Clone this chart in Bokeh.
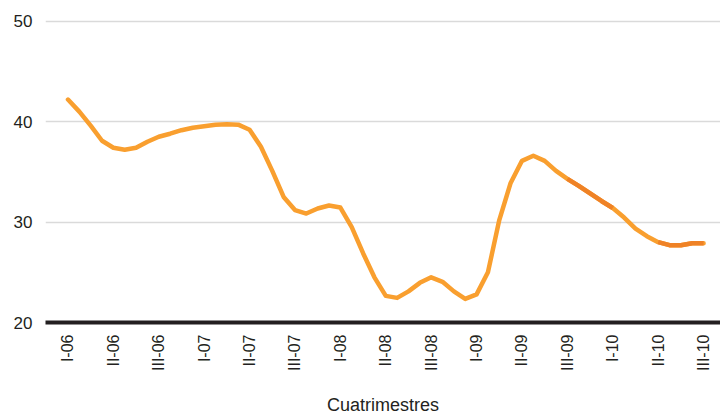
from bokeh.plotting import figure
from bokeh.models import FixedTicker, Range1d, ColumnDataSource
from bokeh.embed import file_html
from bokeh.resources import INLINE
import numpy as np

# Cuatrimestre labels (one every 4 months)
categories = ["I-06", "II-06", "III-06", "I-07", "II-07", "III-07", "I-08", "II-08",
              "III-08", "I-09", "II-09", "III-09", "I-10", "II-10", "III-10"]

# Monthly values (4 months per cuatrimestre)
values = [42.2, 41.0, 39.6, 38.1, 37.4, 37.2, 37.4, 38.0,
          38.5, 38.8, 39.15, 39.4, 39.55, 39.7, 39.75, 39.7,
          39.2, 37.5, 35.1, 32.5, 31.2, 30.85, 31.35, 31.65,
          31.45, 29.5, 26.9, 24.5, 22.65, 22.45, 23.1, 23.95,
          24.5, 24.05, 23.1, 22.35, 22.8, 25.0, 30.2, 33.9,
          36.1, 36.6, 36.1, 35.1, 34.3, 33.6, 32.85, 32.1,
          31.4, 30.45, 29.35, 28.6, 28.0, 27.7, 27.7, 27.9, 27.9]

y_ticks = [20, 30, 40, 50]

months = np.arange(len(values))
src = ColumnDataSource(dict(x=months, y=values))

p = figure(width=720, height=417, output_backend="svg", toolbar_location=None,
           x_range=Range1d(-1.98, 57.49), y_range=Range1d(20, 50.87),
           min_border_left=45, min_border_right=0, min_border_top=12, min_border_bottom=95)
p.outline_line_color = None
p.background_fill_color = "white"

LIGHT = "#f99f2f"
DARK = "#ef8226"

p.line("x", "y", source=src, line_color=LIGHT, line_width=4.5, line_join="round", line_cap="round")
# darker stretches (III-09 -> I-10 and II-10 -> III-10)
for a, b in [(44, 48), (52, 56)]:
    p.line(list(months[a:b + 1]), values[a:b + 1], line_color=DARK, line_width=4.5,
           line_join="round", line_cap="butt")

# x axis
p.xaxis.ticker = FixedTicker(ticks=[4 * i for i in range(len(categories))])
p.xaxis.major_label_overrides = {4 * i: c for i, c in enumerate(categories)}
p.xaxis.major_label_orientation = np.pi / 2
p.xaxis.major_tick_line_color = None
p.xaxis.minor_tick_line_color = None
p.xaxis.major_tick_out = 0
p.xaxis.major_tick_in = 0
p.xaxis.axis_line_color = "#231f20"
p.xaxis.axis_line_width = 4
p.xaxis.major_label_text_font = "Liberation Sans"
p.xaxis.major_label_text_font_size = "16px"
p.xaxis.major_label_text_color = "#231f20"
p.xaxis.major_label_standoff = 12
p.xaxis.axis_label = "Cuatrimestres"
p.xaxis.axis_label_text_font = "Liberation Sans"
p.xaxis.axis_label_text_font_style = "normal"
p.xaxis.axis_label_text_font_size = "18px"
p.xaxis.axis_label_text_color = "#231f20"
p.xaxis.axis_label_standoff = 21
p.xgrid.grid_line_color = None

# y axis
p.yaxis.ticker = FixedTicker(ticks=y_ticks)
p.yaxis.axis_line_color = None
p.yaxis.major_tick_line_color = None
p.yaxis.minor_tick_line_color = None
p.yaxis.major_tick_out = 0
p.yaxis.major_tick_in = 0
p.yaxis.major_label_text_font = "Liberation Sans"
p.yaxis.major_label_text_font_size = "17px"
p.yaxis.major_label_text_color = "#231f20"
p.yaxis.major_label_standoff = 13
p.ygrid.ticker = FixedTicker(ticks=[30, 40, 50])
p.ygrid.grid_line_color = "#dadada"
p.ygrid.grid_line_width = 1.5

open("out.html", "w").write(file_html(p, INLINE))
